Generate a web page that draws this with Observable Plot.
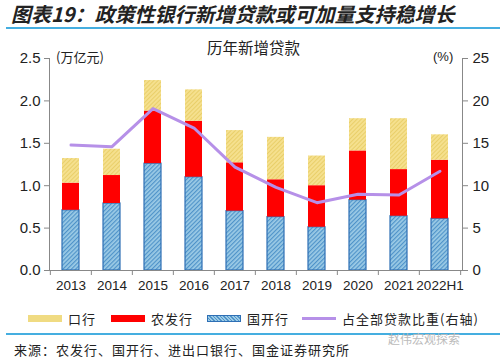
<!DOCTYPE html>
<html><head><meta charset="utf-8">
<script src="https://cdn.jsdelivr.net/npm/d3@7"></script>
<script src="https://cdn.jsdelivr.net/npm/@observablehq/plot@0.6"></script>
<style>
body{margin:0;width:500px;height:361px;background:#fff;overflow:hidden;position:relative;font-family:"Noto Sans CJK SC","Liberation Sans",sans-serif;color:#222}
.abs{position:absolute;white-space:nowrap}
#title{left:11px;top:2px;font-size:20px;font-weight:bold;font-style:italic;line-height:24px}
#topline{left:6px;top:27px;width:494px;height:2px;background:#45aee0}
#chart{left:0;top:30px}
#ctitle{left:207px;top:37px;font-size:15.5px;line-height:20px}
#lunit{left:56px;top:48px;font-size:13px;line-height:18px}
#runit{left:433px;top:48px;font-size:13px;line-height:18px;font-family:"Liberation Sans",sans-serif}
#legend{left:0;top:310px;width:500px;height:18px;font-size:13px;letter-spacing:1px}
.sw{position:absolute;top:5px;width:34px;height:7px}
.lt{position:absolute;top:0;line-height:18px}
#botline{left:6px;top:333px;width:494px;height:2px;background:#45aee0}
#source{left:14px;top:341px;font-size:13px;letter-spacing:1px;line-height:18px}
#wm{left:388px;top:330px;font-size:12px;color:#bbb}
</style></head>
<body>
<div id="title" class="abs">图表19：政策性银行新增贷款或可加量支持稳增长</div>
<div id="topline" class="abs"></div>
<div id="chart" class="abs"></div>
<div id="ctitle" class="abs">历年新增贷款</div>
<div id="lunit" class="abs">(万亿元)</div>
<div id="runit" class="abs">(%)</div>
<div id="legend" class="abs"></div>
<div id="botline" class="abs"></div>
<div id="wm" class="abs">赵伟宏观探索</div>
<div id="source" class="abs">来源：农发行、国开行、进出口银行、国金证券研究所</div>
<script>
const years = ["2013","2014","2015","2016","2017","2018","2019","2020","2021","2022H1"];
const cdb   = [0.71,0.79,1.26,1.10,0.70,0.63,0.51,0.83,0.64,0.61]; // 国开行
const adbc  = [0.32,0.33,0.62,0.66,0.57,0.44,0.49,0.58,0.55,0.69]; // 农发行
const exim  = [0.29,0.31,0.36,0.37,0.38,0.50,0.35,0.38,0.60,0.30]; // 口行
const share = [14.8,14.6,19.1,16.8,12.2,9.8,8.0,9.0,8.9,11.7];     // 占全部贷款比重(%)
const seriesNames = ["国开行","农发行","口行"];
const lineName = "占全部贷款比重(右轴)";
const leftTicks = [0,0.5,1.0,1.5,2.0,2.5];
const rightTicks = [0,5,10,15,20,25];

const bars = [];
years.forEach((y,i)=>{
  bars.push({year:y, series:"国开行", value:cdb[i]});
  bars.push({year:y, series:"农发行", value:adbc[i]});
  bars.push({year:y, series:"口行", value:exim[i]});
});
const line = years.map((y,i)=>({year:y, pct:share[i]}));

const W=500,H=270,ML=49,MR=38,MT=28,MB=30;
const step=(W-ML-MR)/years.length;
const fills = {"国开行":"url(#hatchBlue)","农发行":"#ff0000","口行":"url(#hatchYellow)"};

const plot = Plot.plot({
  width:W, height:H, marginLeft:ML, marginRight:MR, marginTop:MT, marginBottom:MB,
  style:{fontFamily:"Liberation Sans, Arial, sans-serif", fontSize:"15px", color:"#222", background:"transparent"},
  x:{domain:years, paddingInner:0.58, paddingOuter:0.29, align:0.5, label:null},
  y:{domain:[0,2.5], label:null},
  color:{domain:seriesNames, range:seriesNames.map(s=>fills[s])},
  marks:[
    Plot.barY(bars, Plot.stackY({x:"year", y:"value", z:"series", order:seriesNames, fill:"series",
      stroke:d=>d.series==="国开行"?"#2e6fb5":"none", strokeWidth:1.2, inset:0})),
    Plot.line(line, {x:"year", y:d=>d.pct/10, stroke:"#b690e8", strokeWidth:3}),
    Plot.axisY({anchor:"left", ticks:leftTicks, tickFormat:d3.format(".1f"), tickSize:5, stroke:"#888", tickPadding:4, fontSize:15, label:null}),
    Plot.axisY({anchor:"right", ticks:rightTicks.map(t=>t/10), tickFormat:d=>String(Math.round(d*10)), tickSize:5, stroke:"#888", tickPadding:5, fontSize:15, label:null}),
    Plot.axisX({tickSize:0, tickPadding:10, fontSize:13.5, label:null}),
    Plot.ruleX(years, {x:d=>d, dx:-step/2, y1:0, y2:0, insetBottom:-5, stroke:"#888"}),
    Plot.ruleX(years.slice(-1), {x:d=>d, dx:step/2, y1:0, y2:0, insetBottom:-5, stroke:"#888"}),
    Plot.frame({anchor:"left", stroke:"#888"}),
    Plot.frame({anchor:"right", stroke:"#888"}),
    Plot.ruleY([0], {stroke:"#888"})
  ]
});
const ns="http://www.w3.org/2000/svg";
const defs=document.createElementNS(ns,"defs");
defs.innerHTML=`
<pattern id="hatchBlue" patternUnits="userSpaceOnUse" width="3" height="3" patternTransform="rotate(45)">
  <rect width="3" height="3" fill="#9ccbe6"/><rect width="1.2" height="3" fill="#4f93c9"/></pattern>
<pattern id="hatchYellow" patternUnits="userSpaceOnUse" width="3" height="3" patternTransform="rotate(45)">
  <rect width="3" height="3" fill="#f5e08e"/><rect width="1" height="3" fill="#e9cf6a"/></pattern>`;
plot.insertBefore(defs, plot.firstChild);
document.getElementById("chart").appendChild(plot);

// legend
const leg=document.getElementById("legend");
const items=[
  {name:"口行", x:28, sw:`background:#f0db82`},
  {name:"农发行", x:111, sw:`background:#ff0000`},
  {name:"国开行", x:207, sw:`background:repeating-linear-gradient(45deg,#9ccbe6 0 1.5px,#4f93c9 1.5px 2.5px);border:1px solid #2e6fb5;box-sizing:border-box`},
  {name:lineName, x:302, sw:`height:3px;top:7px;background:#b690e8`}
];
items.forEach(it=>{
  const s=document.createElement("div");s.className="sw";s.style.cssText+=`left:${it.x}px;`+it.sw;leg.appendChild(s);
  const t=document.createElement("div");t.className="lt";t.style.left=(it.x+40)+"px";t.textContent=it.name;leg.appendChild(t);
});
</script>
</body></html>
